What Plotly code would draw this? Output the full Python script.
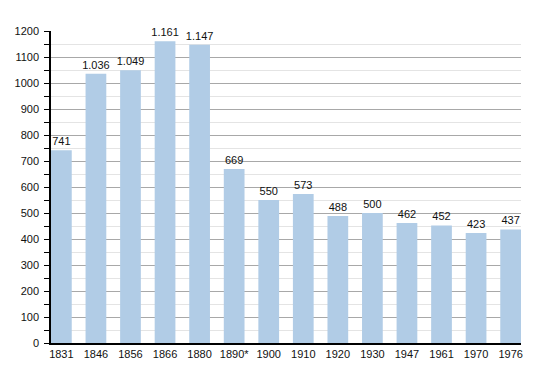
import plotly.graph_objects as go

years = ["1831", "1846", "1856", "1866", "1880", "1890*", "1900", "1910", "1920", "1930", "1947", "1961", "1970", "1976"]
population = [741, 1036, 1049, 1161, 1147, 669, 550, 573, 488, 500, 462, 452, 423, 437]
y_ticks = list(range(0, 1201, 100))

labels = [f"{v:,}".replace(",", ".") for v in population]

fig = go.Figure(go.Bar(
    x=list(range(len(years))),
    y=population,
    text=labels,
    textposition="outside",
    constraintext="none",
    textfont=dict(family="Liberation Sans, Arial, sans-serif", size=11, color="#111"),
    cliponaxis=False,
    marker=dict(color="#b1cce6", line=dict(width=0)),
    width=0.6,
))

# page body has an 8px default margin, so the figure is sized/offset to compensate
fig.update_layout(
    width=542, height=365,
    margin=dict(l=43, r=29, t=23, b=30, autoexpand=False),
    plot_bgcolor="white", paper_bgcolor="white",
    font=dict(family="Liberation Sans, Arial, sans-serif", size=11, color="#111"),
    showlegend=False,
)
fig.update_xaxes(
    range=[-0.3, 13.3], automargin=False,
    tickmode="array", tickvals=list(range(len(years))), ticktext=years,
    showline=True, linecolor="black", linewidth=1.5,
    showgrid=False, ticks="", zeroline=False,
)
fig.update_yaxes(
    range=[0, 1200], automargin=False,
    tickmode="array", tickvals=y_ticks,
    showline=True, linecolor="black", linewidth=1.5,
    ticks="outside", ticklen=5, tickcolor="black", tickwidth=1,
    ticklabelstandoff=3,
    showgrid=True, gridcolor="#a8a8a8", gridwidth=1,
    zeroline=False,
    minor=dict(dtick=50, tick0=0, showgrid=True, gridcolor="#e4e4e4", gridwidth=1,
               ticks="outside", ticklen=5, tickcolor="black"),
)

fig.write_html("out.html")
